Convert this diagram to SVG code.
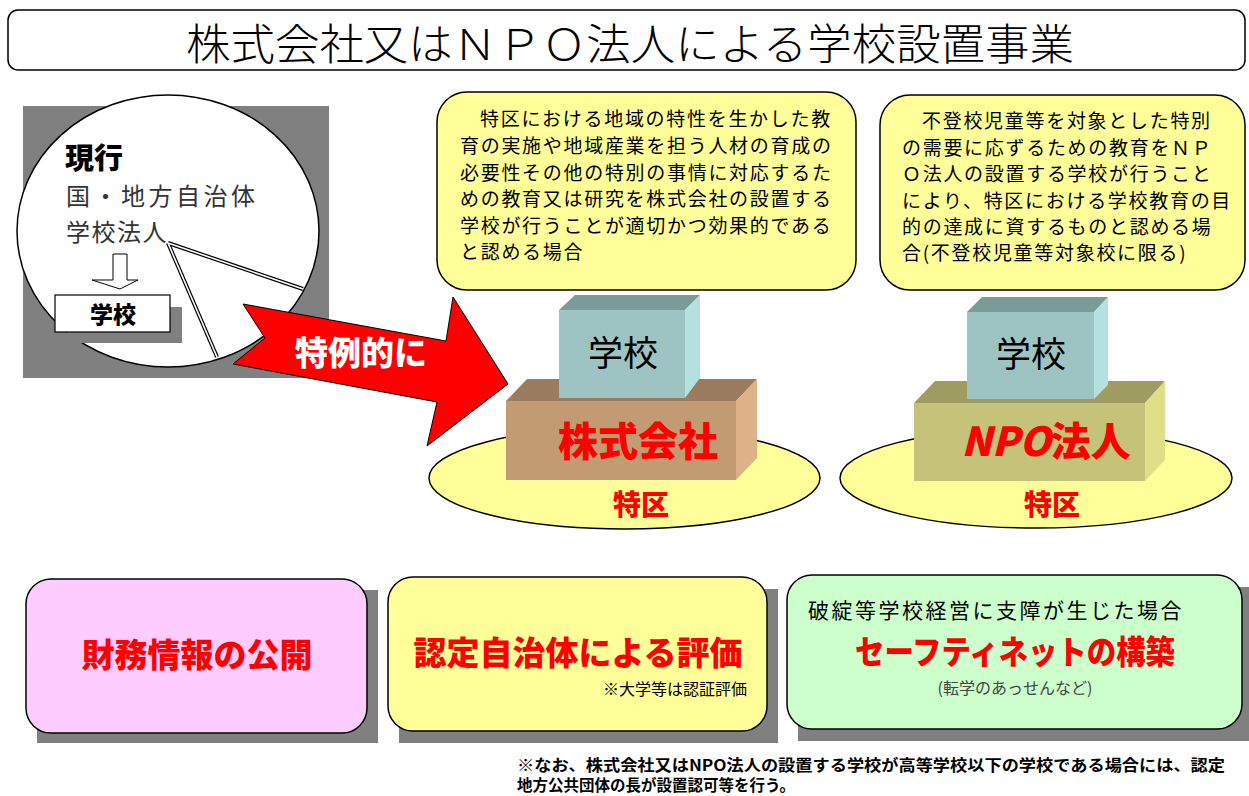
<svg xmlns="http://www.w3.org/2000/svg" width="1249" height="796" viewBox="0 0 1249 796">
  <style>
    .jp { font-family: "Noto Sans CJK JP", "Noto Sans", sans-serif; }
    .body { font-size: 19px; letter-spacing: 1.7px; fill: #000; }
    .pop { font-weight: 900; fill: #FF0000; }
    .box { stroke: #000; stroke-width: 1.5; }
    .shadow { fill: #808080; }
    .edge { stroke: none; }
  </style>

  <rect width="1249" height="796" fill="#FFFFFF"/>

  <!-- heading -->
  <g id="title">
    <rect x="8" y="10" width="1237" height="60" rx="10" fill="#FFFFFF" stroke="#000" stroke-width="1.5"/>
    <text class="jp" x="630" y="60" font-size="43" font-weight="300" text-anchor="middle" textLength="888" lengthAdjust="spacingAndGlyphs">株式会社又はＮＰＯ法人による学校設置事業</text>
  </g>

  <!-- current system: oval callout -->
  <g id="current">
    <rect class="shadow" x="23" y="106" width="306" height="272"/>
    <ellipse cx="168" cy="231" rx="151" ry="136" fill="#FFFFFF" stroke="#000" stroke-width="1.5"/>
    <g stroke-linecap="butt">
      <line x1="168" y1="243" x2="303" y2="289" stroke="#000" stroke-width="4"/>
      <line x1="168" y1="243" x2="217" y2="357" stroke="#000" stroke-width="4"/>
      <line x1="168" y1="243" x2="303" y2="289" stroke="#FFF" stroke-width="1.6"/>
      <line x1="168" y1="243" x2="217" y2="357" stroke="#FFF" stroke-width="1.6"/>
    </g>
    <text class="jp" x="65" y="169" font-size="29" font-weight="900" fill="#000">現行</text>
    <text class="jp" x="66" y="205" font-size="24" letter-spacing="3.5" fill="#333">国・地方自治体</text>
    <text class="jp" x="66" y="241" font-size="24" letter-spacing="1.5" fill="#333">学校法人</text>
    <polygon points="113,254 127,254 127,280 138,280 120,289 92,280 113,280" fill="#FFFFFF" stroke="#000" stroke-width="1"/>
  </g>

  <g id="school-current">
    <rect class="shadow" x="67" y="307" width="115" height="36"/>
    <rect x="55" y="295" width="115" height="37" fill="#FFFFFF" stroke="#000" stroke-width="1.2"/>
    <text class="jp" x="113" y="323" font-size="23" font-weight="900" text-anchor="middle" fill="#000">学校</text>
  </g>

  <!-- big red arrow -->
  <g id="arrow-special">
    <polygon points="243,304 446,341 453,297 508,384 427,446 437,402 233,364 265,338" fill="#FF0000" stroke="#000" stroke-width="1"/>
    <text class="jp" x="361" y="365" font-size="33" font-weight="900" text-anchor="middle" fill="#FFFFFF">特例的に</text>
  </g>

  <!-- condition boxes -->
  <g id="cond-company">
    <rect class="box" x="437" y="92" width="419" height="198" rx="30" fill="#FFFF99"/>
    <text class="jp body">
      <tspan x="480" y="126">特区における地域の特性を生かした教</tspan>
      <tspan x="460" y="153">育の実施や地域産業を担う人材の育成の</tspan>
      <tspan x="460" y="180">必要性その他の特別の事情に対応するた</tspan>
      <tspan x="460" y="206">めの教育又は研究を株式会社の設置する</tspan>
      <tspan x="460" y="233">学校が行うことが適切かつ効果的である</tspan>
      <tspan x="460" y="259">と認める場合</tspan>
    </text>
  </g>

  <g id="cond-npo">
    <rect class="box" x="880" y="95" width="365" height="195" rx="30" fill="#FFFF99"/>
    <text class="jp body">
      <tspan x="922" y="128">不登校児童等を対象とした特別</tspan>
      <tspan x="902" y="155">の需要に応ずるための教育をＮＰ</tspan>
      <tspan x="902" y="181">Ｏ法人の設置する学校が行うこと</tspan>
      <tspan x="902" y="208">により、特区における学校教育の目</tspan>
      <tspan x="902" y="234">的の達成に資するものと認める場</tspan>
      <tspan x="902" y="260">合(不登校児童等対象校に限る)</tspan>
    </text>
  </g>

  <!-- company stack -->
  <g id="stack-company">
    <ellipse cx="624.5" cy="478" rx="195.5" ry="51" fill="#FFFF99" stroke="#000" stroke-width="1.5"/>
    <polygon class="edge" points="506,401 527,379 757,379 736,401" fill="#9C7C5E"/>
    <polygon class="edge" points="736,401 757,379 757,458 736,480" fill="#DDB286"/>
    <rect class="edge" x="506" y="401" width="230" height="79" fill="#C39B72"/>
    <polygon class="edge" points="559,310 575,295 700,295 685,310" fill="#7A9B9A"/>
    <polygon class="edge" points="685,310 700,295 700,378 685,398" fill="#B4E0E0"/>
    <rect class="edge" x="559" y="310" width="126" height="88" fill="#9DC3C2"/>
    <text class="jp" x="623" y="366" font-size="35" text-anchor="middle" fill="#000">学校</text>
    <text class="jp pop" x="638" y="456" font-size="40" text-anchor="middle">株式会社</text>
    <text class="jp pop" x="641" y="515" font-size="28" text-anchor="middle">特区</text>
  </g>

  <!-- NPO stack -->
  <g id="stack-npo">
    <ellipse cx="1036" cy="478" rx="196" ry="50" fill="#FFFF99" stroke="#000" stroke-width="1.5"/>
    <polygon class="edge" points="914,403 935,381 1165,381 1145,403" fill="#9E9C60"/>
    <polygon class="edge" points="1145,403 1165,381 1165,460 1145,481" fill="#DFDF8A"/>
    <rect class="edge" x="914" y="403" width="231" height="78" fill="#C5C37A"/>
    <polygon class="edge" points="967,312 982,297 1108,297 1094,312" fill="#7A9B9A"/>
    <polygon class="edge" points="1094,312 1108,297 1108,385 1094,399" fill="#B4E0E0"/>
    <rect class="edge" x="967" y="312" width="127" height="87" fill="#9DC3C2"/>
    <text class="jp" x="1031" y="367" font-size="35" text-anchor="middle" fill="#000">学校</text>
    <text class="jp pop" x="1046" y="456" font-size="40" text-anchor="middle"><tspan font-style="italic">NPO</tspan>法人</text>
    <text class="jp pop" x="1052" y="515" font-size="28" text-anchor="middle">特区</text>
  </g>

  <!-- measures -->
  <g id="measure-finance">
    <rect class="shadow" x="37" y="590" width="341" height="153"/>
    <rect class="box" x="26" y="579" width="341" height="154" rx="25" fill="#FFCCFF"/>
    <text class="jp pop" x="197" y="667" font-size="33" text-anchor="middle">財務情報の公開</text>
  </g>

  <g id="measure-evaluation">
    <rect class="shadow" x="399" y="589" width="379" height="154"/>
    <rect class="box" x="388" y="577" width="379" height="154" rx="25" fill="#FFFF99"/>
    <text class="jp pop" x="578" y="665" font-size="33" text-anchor="middle">認定自治体による評価</text>
    <text class="jp" x="747" y="695" font-size="16" text-anchor="end" fill="#000">※大学等は認証評価</text>
  </g>

  <g id="measure-safety">
    <rect class="shadow" x="798" y="587" width="451" height="154"/>
    <rect class="box" x="787" y="575" width="455" height="154" rx="25" fill="#CCFFCC"/>
    <text class="jp" x="808" y="618" font-size="21" letter-spacing="2.5" fill="#000">破綻等学校経営に支障が生じた場合</text>
    <text class="jp pop" x="855" y="664" font-size="33" textLength="320" lengthAdjust="spacingAndGlyphs">セーフティネットの構築</text>
    <text class="jp" x="1015" y="694" font-size="16" text-anchor="middle" fill="#444">(転学のあっせんなど)</text>
  </g>

  <!-- note -->
  <g id="note">
    <text class="jp" x="517" y="771" font-size="15.5" font-weight="700" fill="#000" textLength="708" lengthAdjust="spacingAndGlyphs">※なお、株式会社又はNPO法人の設置する学校が高等学校以下の学校である場合には、認定</text>
    <text class="jp" x="517" y="791" font-size="15.5" font-weight="700" fill="#000">地方公共団体の長が設置認可等を行う。</text>
  </g>
</svg>
